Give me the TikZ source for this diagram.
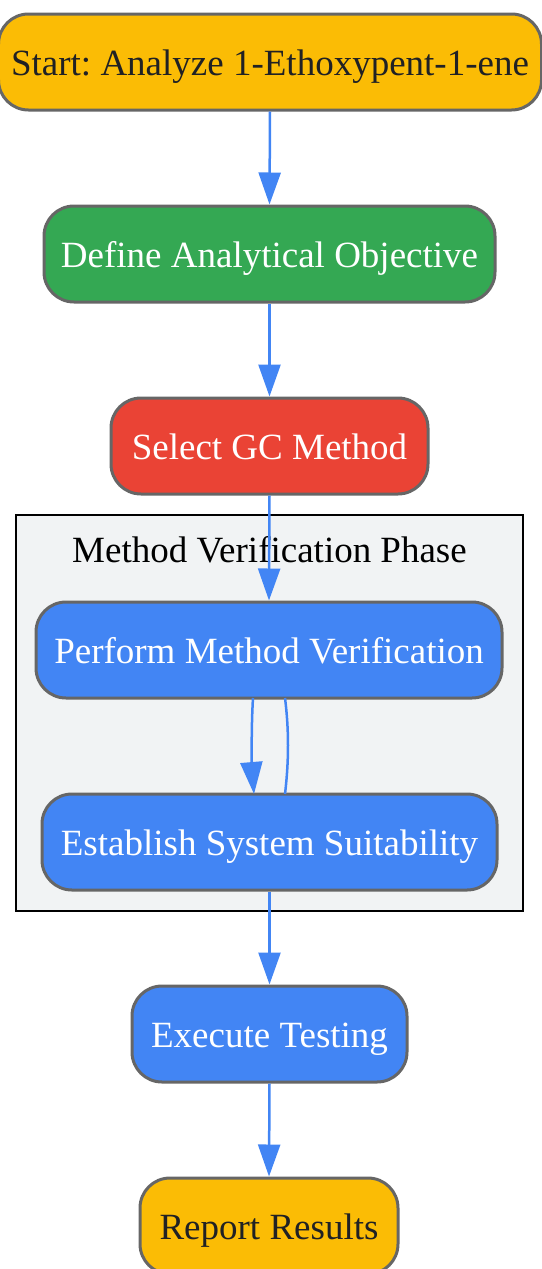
\documentclass[tikz,border=0pt]{standalone}
\usepackage{fontspec}
\setmainfont{Liberation Serif}
\usetikzlibrary{arrows.meta}
\definecolor{cyellow}{HTML}{FBBC05}
\definecolor{cgreen}{HTML}{34A853}
\definecolor{cred}{HTML}{EA4335}
\definecolor{cblue}{HTML}{4285F4}
\definecolor{cborder}{HTML}{666666}
\definecolor{cclust}{HTML}{F1F3F4}
\definecolor{cdark}{HTML}{202124}
\frenchspacing
\tikzset{
  txt/.style={font=\fontsize{37}{44}\selectfont, text height=30pt, text depth=4pt, inner sep=0pt},
  box/.style={txt, draw=cborder, line width=3pt, rounded corners=30pt, minimum height=96pt},
  edge/.style={draw=cblue, line width=2.5pt, -{Triangle[length=32pt,width=22pt]}},
  plainedge/.style={draw=cblue, line width=2.5pt},
}
\begin{document}
\begin{tikzpicture}[x=1pt,y=-1pt]
\useasboundingbox (0,0) rectangle (541,1269);
\node[draw=black, line width=2pt, fill=cclust, minimum width=507pt, minimum height=396pt, inner sep=0pt] (clust) at (269.5,713) {};
\node[txt, text=black] (clustlabel) at (269.5,549) {Method Verification Phase};
\node[box, fill=cyellow, text=cdark, minimum width=543pt] (start) at (270,62) {Start: Analyze 1-Ethoxypent-1-ene};
\node[box, fill=cgreen, text=white, minimum width=451pt] (define) at (269.5,254) {Define Analytical Objective};
\node[box, fill=cred, text=white, minimum width=317pt] (select) at (269.5,446) {Select GC Method};
\node[box, fill=cblue, text=white, minimum width=466pt] (perform) at (269,650) {Perform Method Verification};
\node[box, fill=cblue, text=white, minimum width=455pt] (establish) at (269.5,842) {Establish System Suitability};
\node[box, fill=cblue, text=white, minimum width=275pt] (execute) at (269.5,1034) {Execute Testing};
\node[box, fill=cyellow, text=cdark, minimum width=258pt] (report) at (269,1226) {Report Results};
\coordinate (l1) at (253,698);
\coordinate (l2) at (254,794);
\coordinate (r1) at (285,794);
\coordinate (r2) at (285,698);
\draw[edge] (l1) .. controls (251,730) and (252,770) .. (l2);
\draw[plainedge] (r1) .. controls (289,760) and (289,730) .. (r2);
\draw[edge] (start.south) -- (define.north);
\draw[edge] (define.south) -- (select.north);
\draw[edge] (select.south) -- (perform.north);
\draw[edge] (establish.south) -- (execute.north);
\draw[edge] (execute.south) -- (report.north);
\end{tikzpicture}
\end{document}
